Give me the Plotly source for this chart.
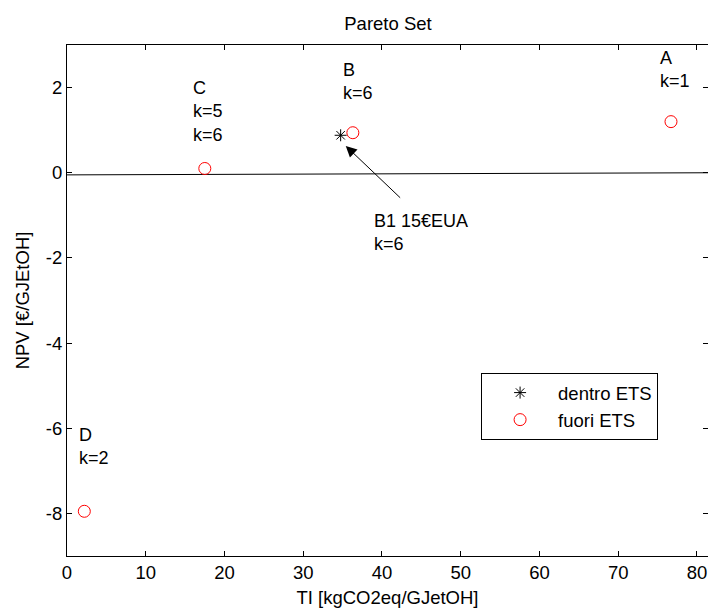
import plotly.graph_objects as go

# Data
fuori_x = [76.7, 36.3, 17.5, 2.2]
fuori_y = [1.2, 0.94, 0.10, -7.95]
dentro_x = [34.75]
dentro_y = [0.88]
line_x = [0, 82]
line_y = [-0.05, 0.0]

labels = ["A<br>k=1", "B<br>k=6", "C<br>k=5<br>k=6", "D<br>k=2", "B1 15€EUA<br>k=6"]
label_x = [75.05, 34.75, 15.78, 1.23, 38.73]
label_y = [2.98, 2.69, 2.28, -5.88, -0.85]

arrow_head = (35.4, 0.63)
arrow_tail = (42.5, -0.62)

xticks = [0, 10, 20, 30, 40, 50, 60, 70, 80]
yticks = [-8, -6, -4, -2, 0, 2]

FONT = "Liberation Sans, Arial, sans-serif"
FS = 18.5

fig = go.Figure()
fig.add_trace(go.Scatter(x=line_x, y=line_y, mode="lines",
                         line=dict(color="black", width=1), showlegend=False, hoverinfo="skip"))
fig.add_trace(go.Scatter(x=dentro_x, y=dentro_y, mode="markers", name="dentro ETS",
                         marker=dict(symbol="asterisk-open", size=10, color="black",
                                     line=dict(color="black", width=1))))
fig.add_trace(go.Scatter(x=fuori_x, y=fuori_y, mode="markers", name="fuori ETS",
                         marker=dict(symbol="circle-open", size=12, color="red",
                                     line=dict(color="red", width=1))))

for t, x, y in zip(labels, label_x, label_y):
    fig.add_annotation(x=x, y=y, text=t, showarrow=False, xanchor="left", yanchor="top",
                       align="left", font=dict(family=FONT, size=18, color="black"))

fig.add_annotation(x=arrow_head[0], y=arrow_head[1], ax=arrow_tail[0], ay=arrow_tail[1],
                   axref="x", ayref="y", xref="x", yref="y", text="", showarrow=True,
                   arrowhead=2, arrowsize=2.2, arrowwidth=1, arrowcolor="black")

axis_common = dict(showgrid=False, zeroline=False, showline=True, linecolor="black",
                   linewidth=1, mirror="allticks", ticks="inside", ticklen=5,
                   tickcolor="black", tickfont=dict(family=FONT, size=FS, color="black"))

fig.update_xaxes(range=[0, 81.4], tickvals=xticks, ticktext=[str(v) for v in xticks],
                 title=dict(text="TI [kgCO2eq/GJetOH]", standoff=8,
                            font=dict(family=FONT, size=FS, color="black")), **axis_common)
fig.update_yaxes(range=[-9, 3], tickvals=yticks, ticktext=[str(v) for v in yticks],
                 title=dict(text="NPV [€/GJEtOH]", standoff=11,
                            font=dict(family=FONT, size=FS, color="black")), **axis_common)

fig.update_layout(
    width=708, height=608,
    margin=dict(l=67, r=0, t=45, b=52),
    paper_bgcolor="white", plot_bgcolor="white",
    title=dict(text="Pareto Set", x=0.548, xanchor="center", y=0.962, yanchor="middle",
               font=dict(family=FONT, size=FS, color="black")),
    legend=dict(x=0.646, y=0.358, xanchor="left", yanchor="top", bordercolor="black",
                borderwidth=1, bgcolor="white", itemwidth=66,
                font=dict(family=FONT, size=FS, color="black"), tracegroupgap=0),
    font=dict(family=FONT),
)

fig.write_html("out.html")
